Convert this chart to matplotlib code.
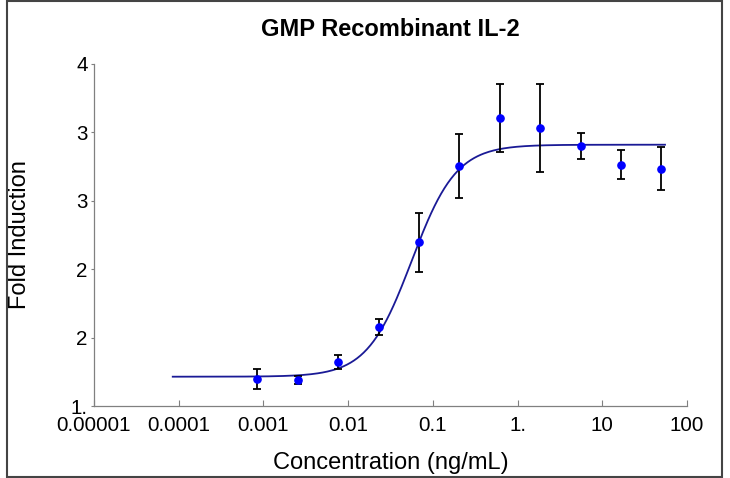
import numpy as np
import matplotlib.pyplot as plt
from matplotlib.patches import Rectangle

# GMP Recombinant IL-2 dose response

conc = [0.000847, 0.00254, 0.00762, 0.0229, 0.0686, 0.206, 0.617, 1.85, 5.56, 16.7, 50.0]
fold = [1.237, 1.228, 1.386, 1.693, 2.436, 3.105, 3.524, 3.441, 3.281, 3.117, 3.082]
err = [0.088, 0.035, 0.063, 0.070, 0.257, 0.278, 0.300, 0.384, 0.116, 0.130, 0.190]

# 4PL fit parameters
bottom, top, ec50, hill = 1.257, 3.292, 0.0563, 1.65
fit_range = (8.5e-5, 55.0)

x_ticks = [1e-5, 1e-4, 1e-3, 1e-2, 1e-1, 1, 10, 100]
x_labels = ['0.00001', '0.0001', '0.001', '0.01', '0.1', '1.', '10', '100']
y_ticks = [1.0, 1.6, 2.2, 2.8, 3.4, 4.0]
y_labels = ['1.', '2', '2', '3', '3', '4']

plt.rcParams['font.family'] = ['Liberation Sans', 'DejaVu Sans']

fig = plt.figure(figsize=(7.3, 4.78), dpi=100)
ax = fig.add_axes([94/730, 72/478, 593/730, 342/478])

xs = np.logspace(np.log10(fit_range[0]), np.log10(fit_range[1]), 300)
ys = bottom + (top - bottom) / (1 + (ec50 / xs) ** hill)
ax.plot(xs, ys, color='#1a1a96', lw=1.3, zorder=2)

ax.errorbar(conc, fold, yerr=err, fmt='none', ecolor='black', elinewidth=1.3,
            capsize=3.2, capthick=1.3, zorder=3)
ax.plot(conc, fold, 'o', color='#0000ff', ms=5.2, zorder=4)

ax.set_xscale('log')
ax.set_xlim(1e-5, 100)
ax.set_ylim(1, 4)
ax.set_xticks(x_ticks)
ax.set_xticklabels(x_labels)
ax.minorticks_off()
ax.set_yticks(y_ticks)
ax.set_yticklabels(y_labels)

for s in ['top', 'right']:
    ax.spines[s].set_visible(False)
for s in ['left', 'bottom']:
    ax.spines[s].set_color('#808080')
    ax.spines[s].set_linewidth(0.9)
ax.tick_params(axis='x', direction='in', length=4, color='#808080', labelsize=14.8, pad=7)
ax.tick_params(axis='y', direction='out', length=2.5, color='#808080', labelsize=14.8, pad=2)

ax.set_xlabel('Concentration (ng/mL)', fontsize=17, va='center')
ax.xaxis.set_label_coords(0.5, (406 - 463) / 342)
ax.set_ylabel('Fold Induction', fontsize=17, va='center')
ax.yaxis.set_label_coords((20 - 94) / 593, 0.5)
fig.text(390/730, 1 - 30/478, 'GMP Recombinant IL-2', ha='center', va='center',
         fontsize=17, fontweight='bold')

fig.patches.append(Rectangle((7/730, 1/478), 715/730, 476/478, transform=fig.transFigure,
                             fill=False, edgecolor='#444444', lw=1.5))

fig.savefig('out.png', dpi=100)
